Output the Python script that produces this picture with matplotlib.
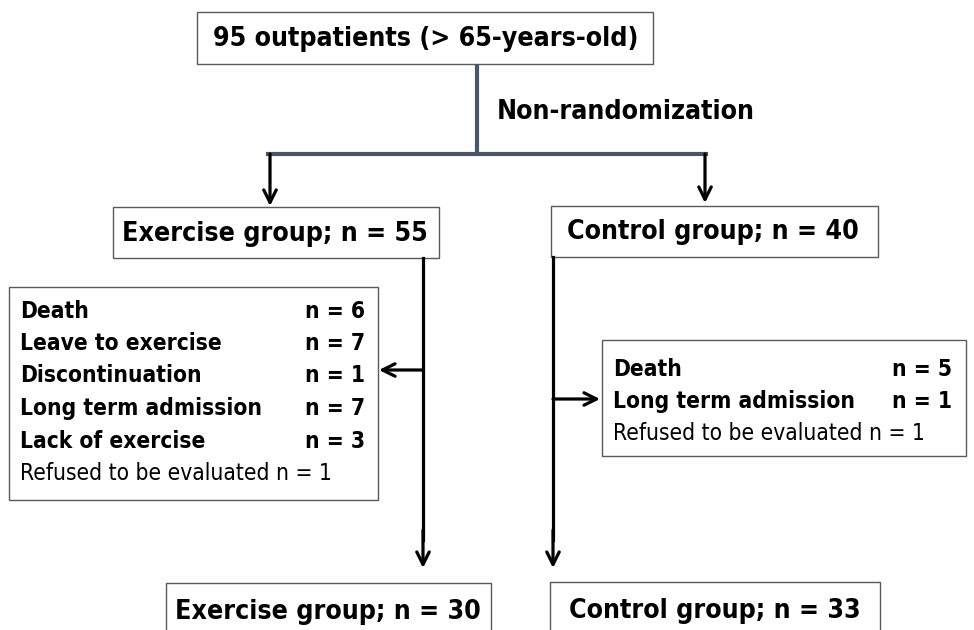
import matplotlib.pyplot as plt
from matplotlib import font_manager
from matplotlib.font_manager import FontProperties
from matplotlib.patches import Rectangle

# flow chart content
enrolled_label = "95 outpatients (> 65-years-old)"
allocation_label = "Non-randomization"
group_names = ["Exercise group", "Control group"]
n_allocated = [55, 40]
n_analysed = [30, 33]

exercise_reasons = ["Death", "Leave to exercise", "Discontinuation",
                    "Long term admission", "Lack of exercise"]
exercise_counts = [6, 7, 1, 7, 3]
control_reasons = ["Death", "Long term admission"]
control_counts = [5, 1]
refused_label = "Refused to be evaluated"
refused_counts = [1, 1]


def pick_font():
    # the original uses a tall, narrow face; use a condensed one if present
    for fam in ["Liberation Sans Narrow", "Noto Sans", "DejaVu Sans", "Roboto",
                "Open Sans"]:
        try:
            path = font_manager.findfont(
                FontProperties(family=fam, weight="bold", stretch="condensed"),
                fallback_to_default=False)
        except ValueError:
            continue
        if "ondensed" in path or "arrow" in path:
            return fam, "condensed", 19.2, 16.3
    return "Lato", "normal", 20.0, 15.0


FONT, STRETCH, BIG, SMALL = pick_font()
plt.rcParams["font.family"] = [FONT, "DejaVu Sans"]
plt.rcParams["font.stretch"] = STRETCH

SLATE = "#4a5568"
EDGE = "#5a5a5a"


def box(ax, x0, y0, x1, y1, bottom=True):
    if bottom:
        ax.add_patch(Rectangle((x0, y0), x1 - x0, y1 - y0, fill=False,
                               edgecolor=EDGE, linewidth=1.0))
    else:
        ax.plot([x0, x0, x1, x1], [y1, y0, y0, y1], color=EDGE, linewidth=1.0)


def arrow(ax, x0, y0, x1, y1):
    ax.annotate("", xy=(x1, y1), xytext=(x0, y0),
                arrowprops=dict(arrowstyle="->,head_width=0.45,head_length=0.9",
                                color="black", lw=2.3, shrinkA=0, shrinkB=0))


def reason_box(ax, x0, y0, x1, y1, reasons, counts, refused, row0, n_right):
    box(ax, x0, y0, x1, y1)
    y = row0
    for reason, count in zip(reasons, counts):
        ax.text(x0 + 11, y, reason, fontsize=SMALL, fontweight="bold",
                va="center", ha="left")
        ax.text(n_right, y, f"n = {count}", fontsize=SMALL, fontweight="bold",
                va="center", ha="right")
        y += 32.5
    ax.text(x0 + 11, y, f"{refused_label} n = {refused}", fontsize=SMALL,
            va="center", ha="left")


fig = plt.figure(figsize=(9.74, 6.30), dpi=100)
ax = fig.add_axes([0, 0, 1, 1])
ax.set_xlim(0, 974)
ax.set_ylim(630, 0)
ax.axis("off")

# top box
box(ax, 197, 12, 653, 64)
ax.text(426, 39, enrolled_label, fontsize=BIG, fontweight="bold",
        ha="center", va="center")

# split
ax.plot([477, 477], [64, 154], color=SLATE, lw=3.0, solid_capstyle="butt")
ax.plot([268, 706], [154, 154], color=SLATE, lw=3.0, solid_capstyle="projecting")
ax.text(497, 112, allocation_label, fontsize=BIG, fontweight="bold",
        ha="left", va="center")
arrow(ax, 270, 154, 270, 206)
arrow(ax, 705, 154, 705, 203)

# allocated groups
box(ax, 113, 207, 439, 258)
ax.text(275, 234, f"{group_names[0]}; n = {n_allocated[0]}", fontsize=BIG,
        fontweight="bold", ha="center", va="center")
box(ax, 551, 206, 878, 257)
ax.text(713, 232, f"{group_names[1]}; n = {n_allocated[1]}", fontsize=BIG,
        fontweight="bold", ha="center", va="center")

# follow-up lines
ax.plot([423, 423], [258, 540], color="black", lw=2.3)
arrow(ax, 423, 530, 423, 568)
ax.plot([553, 553], [257, 540], color="black", lw=2.3)
arrow(ax, 553, 530, 553, 568)

# exclusions
reason_box(ax, 9, 287, 378, 500, exercise_reasons, exercise_counts,
           refused_counts[0], 311, 365)
arrow(ax, 423, 370, 379, 370)
reason_box(ax, 602, 340, 966, 456, control_reasons, control_counts,
           refused_counts[1], 369, 952)
arrow(ax, 553, 399, 600, 399)

# analysed groups
box(ax, 166, 583, 491, 640, bottom=False)
ax.text(328, 612, f"{group_names[0]}; n = {n_analysed[0]}", fontsize=BIG,
        fontweight="bold", ha="center", va="center")
box(ax, 550, 582, 880, 640, bottom=False)
ax.text(715, 611, f"{group_names[1]}; n = {n_analysed[1]}", fontsize=BIG,
        fontweight="bold", ha="center", va="center")

fig.savefig("out.png", dpi=100)
